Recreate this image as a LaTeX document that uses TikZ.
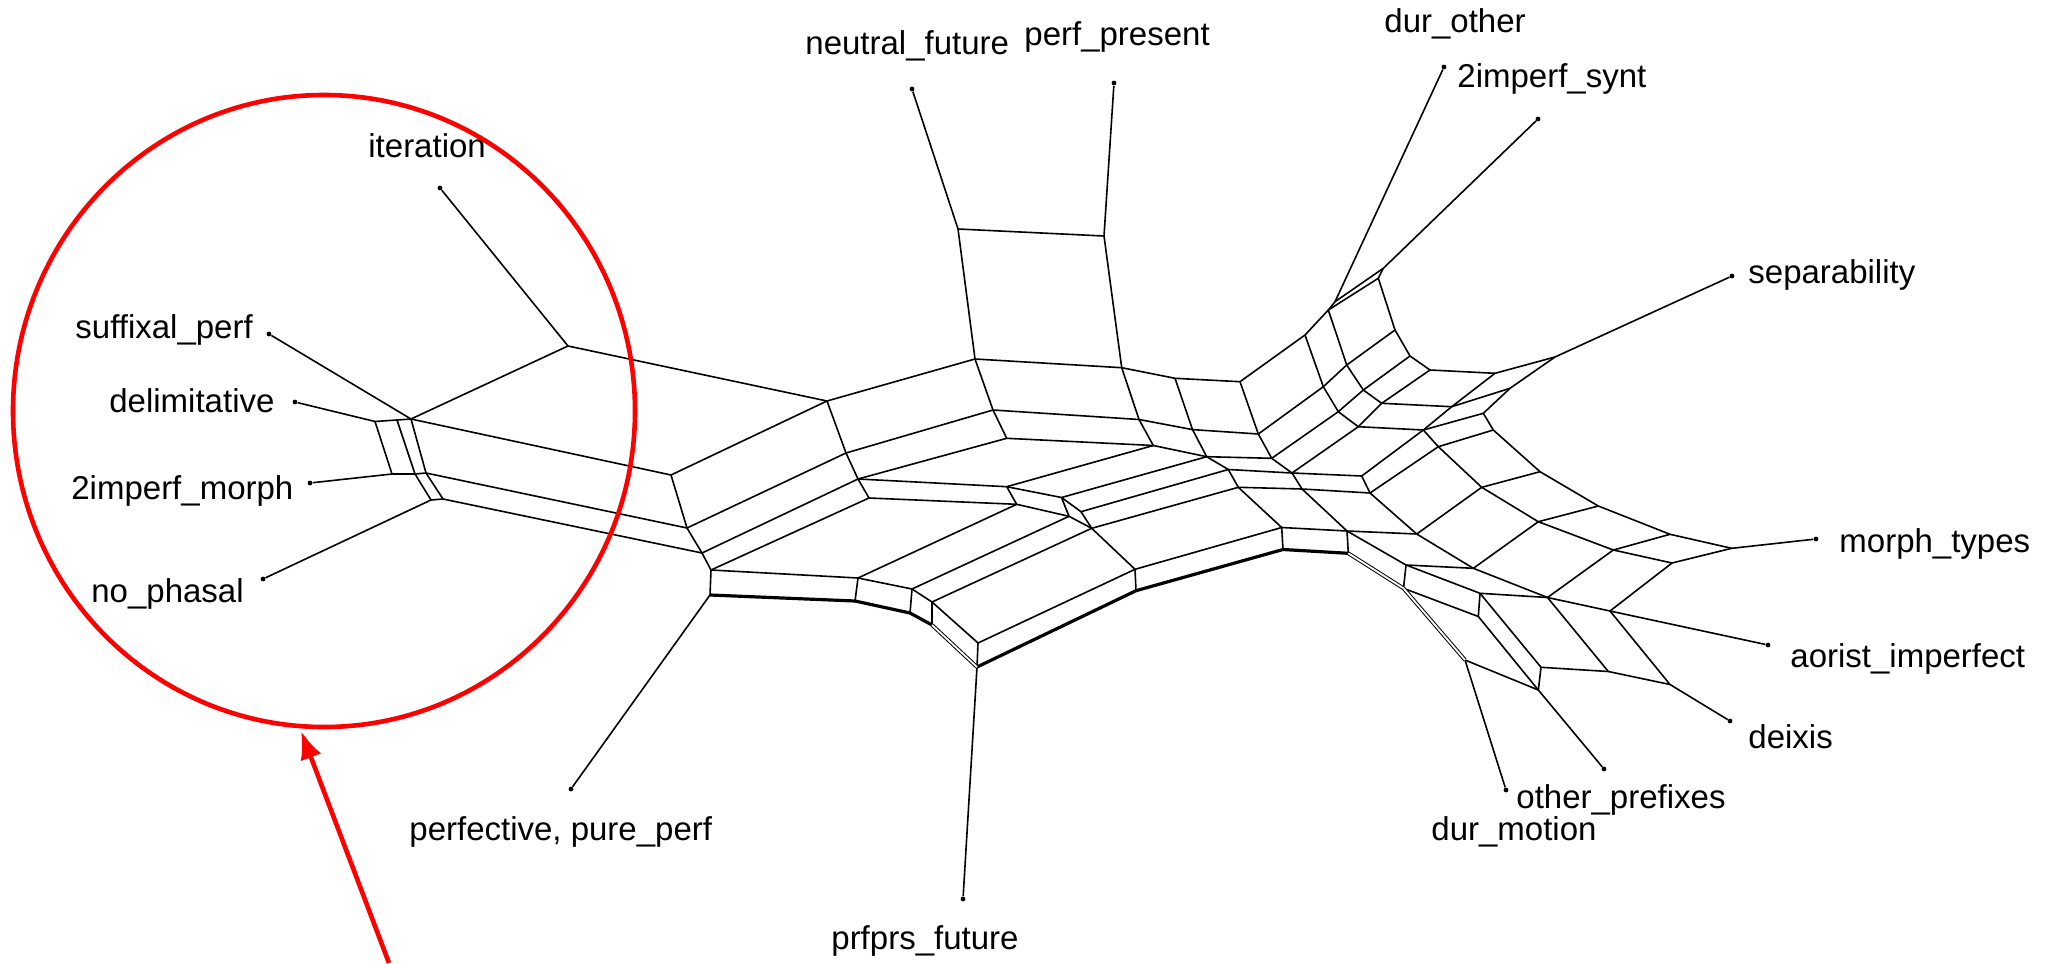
\documentclass[tikz,border=0pt]{standalone}
\usepackage{fontspec}
\setmainfont{Liberation Sans}
\usetikzlibrary{arrows.meta}
\begin{document}
\begin{tikzpicture}[x=0.5pt,y=-0.5pt,
  edge/.style={line width=0.8pt},
  bold/.style={line width=1.6pt},
  dbl/.style={double, double distance=0.9pt, line width=0.5pt},
  lbl/.style={anchor=base west, inner sep=0pt, font=\fontsize{16.5}{20}\selectfont},
  leaf/.style={circle, fill, inner sep=0pt, minimum size=2.4pt},
  mark red/.style={draw=red, line width=2.3pt}]
\useasboundingbox (0,0) rectangle (2049,963);

% ---------- leaves ----------
\node[leaf] (Liter) at (440,188) {};
\node[leaf] (Lsuff) at (269,334) {};
\node[leaf] (Ldelim) at (295,402) {};
\node[leaf] (Lmorph) at (310,483) {};
\node[leaf] (Lnoph) at (263,579) {};
\node[leaf] (Lnf) at (912,89) {};
\node[leaf] (Lpp) at (1114,83) {};
\node[leaf] (Ldur) at (1444,67) {};
\node[leaf] (Lsynt) at (1538,119) {};
\node[leaf] (Lsep) at (1732,276) {};
\node[leaf] (Lmt) at (1816,539) {};
\node[leaf] (Laor) at (1768,645) {};
\node[leaf] (Ldeix) at (1730,721) {};
\node[leaf] (Loth) at (1604,769) {};
\node[leaf] (Ldurm) at (1506,790) {};
\node[leaf] (Lperf) at (571,789) {};
\node[leaf] (Lprf) at (963,899) {};

% ---------- internal vertices ----------
\coordinate (I) at (568,346);
\coordinate (A1) at (375,421.5);
\coordinate (A2) at (397,420);
\coordinate (A3) at (411,419);
\coordinate (B1) at (392,474);
\coordinate (B2) at (415,474);
\coordinate (B3) at (426,473);
\coordinate (C1) at (431,500);
\coordinate (C2) at (443,499);

\coordinate (L1) at (671,475);
\coordinate (L2) at (687,528);
\coordinate (L3) at (702,553);
\coordinate (L4) at (711,570);
\coordinate (L5) at (710,595);
\coordinate (N1) at (827,401);
\coordinate (N3) at (846,453);
\coordinate (N4) at (858,479);
\coordinate (N5) at (869,498);
\coordinate (N2) at (975,359);
\coordinate (N6) at (993,410);
\coordinate (N7) at (1006.7,438.3);
\coordinate (T1) at (958,229);
\coordinate (T2) at (1104,236);

\coordinate (P1) at (1121.7,367.7);
\coordinate (P2) at (1175,378.3);
\coordinate (P3) at (1240,381.7);
\coordinate (P4) at (1305,335);
\coordinate (P5) at (1139,419.5);
\coordinate (P6) at (1153.3,445.5);
\coordinate (P7) at (1192.5,429.6);
\coordinate (P8) at (1206.7,456.7);
\coordinate (P9) at (1258.3,434);
\coordinate (P10) at (1271.7,458.3);
\coordinate (P11) at (1292,473);
\coordinate (P12) at (1302,489);
\coordinate (P13) at (1370,493);
\coordinate (P14) at (1361.7,476);
\coordinate (AG) at (1228.3,469.5);
\coordinate (AH) at (1238.3,487.3);

\coordinate (Qc) at (1006.7,486.7);
\coordinate (Qd) at (1016.7,504.3);
\coordinate (Qe) at (1061.5,497.5);
\coordinate (Qf) at (1069,516.3);
\coordinate (Qg) at (1081,511.7);
\coordinate (Qh) at (1091.7,528.3);
\coordinate (Qi) at (1135,569.3);
\coordinate (Qj) at (1136,590.7);
\coordinate (Qk) at (1281.7,527.5);
\coordinate (Ql) at (1283,549.5);
\coordinate (Qm) at (1347,531);
\coordinate (Qn) at (1348.3,553.3);

\coordinate (M1) at (858,578);
\coordinate (M2) at (855,601);
\coordinate (M3) at (912,589);
\coordinate (M4) at (910,613);
\coordinate (M5) at (932,602);
\coordinate (M6) at (932,625);
\coordinate (M7) at (978,643);
\coordinate (M8) at (977,667);

\coordinate (Ra) at (1383.3,268.3);
\coordinate (Rb) at (1378.3,278.3);
\coordinate (Rc) at (1335,301.7);
\coordinate (Rd) at (1328.3,310);
\coordinate (Rh) at (1346.7,365);
\coordinate (Ri) at (1323.3,386.7);
\coordinate (Rj) at (1395,330);
\coordinate (Rk) at (1410,356);
\coordinate (Rl) at (1430,370);
\coordinate (Rm) at (1495,373.3);
\coordinate (Rn) at (1363.3,390);
\coordinate (Ro) at (1338.3,411.7);
\coordinate (Rw) at (1381.7,403.3);
\coordinate (Rx) at (1451.7,406.7);
\coordinate (Ry) at (1358.3,426.7);
\coordinate (Rz) at (1423.3,430);
\coordinate (Raa) at (1483.3,413.3);
\coordinate (Rab) at (1493.3,430);
\coordinate (Rac) at (1438.3,446.7);
\coordinate (Raf) at (1481.7,487.3);

\coordinate (S0) at (1510,388.3);
\coordinate (SepI) at (1555,357);
\coordinate (S1) at (1540,471.7);
\coordinate (S2) at (1598.3,506);
\coordinate (S3) at (1416.7,534);
\coordinate (S4) at (1538.3,521.7);
\coordinate (S5) at (1670,534.3);
\coordinate (S6) at (1731.7,548.3);
\coordinate (S7) at (1613.3,550);
\coordinate (S8) at (1672,563);
\coordinate (S9) at (1473.3,568.3);
\coordinate (S10) at (1406,565);
\coordinate (S11) at (1403.5,588.3);
\coordinate (S12) at (1480,593.3);
\coordinate (S13) at (1547.5,597.5);
\coordinate (S14) at (1478.3,616.5);
\coordinate (S15) at (1610,611);
\coordinate (S16) at (1465,660);
\coordinate (S17) at (1541,667.3);
\coordinate (S18) at (1538.3,690);
\coordinate (S19) at (1608.3,671.5);
\coordinate (S20) at (1670,684.5);

% ---------- thin edges ----------
\foreach \u/\v in {Liter/I, Lsuff/A3, Ldelim/A1, Lmorph/B1, Lnoph/C1,
  I/A3, A1/A2, A2/A3, A1/B1, A2/B2, A3/B3, B1/B2, B2/B3, B2/C1, B3/C2, C1/C2,
  I/N1, A3/L1, B3/L2, C2/L3,
  L1/L2, L2/L3, L3/L4, L4/L5, L1/N1, L2/N3, L3/N4, L4/N5, N1/N3, N3/N4, N4/N5,
  N1/N2, N3/N6, N4/N7, N2/N6, N6/N7,
  Lnf/T1, Lpp/T2, T1/T2, T1/N2, T2/P1,
  N2/P1, N6/P5, N7/P6, N4/Qc, N5/Qd,
  P1/P2, P2/P3, P3/P4, P1/P5, P5/P6, P2/P7, P5/P7, P6/P8, P7/P8, P3/P9, P7/P9,
  P8/P10, P9/P10, P10/P11, P11/P12, P8/AG, AG/P11, AG/AH, AH/P12, P11/P14, P12/P13, P14/P13,
  Qc/P6, Qc/Qe, Qc/Qd, Qd/Qf, Qe/Qf, Qe/P8, Qe/Qg, Qf/Qh, Qg/Qh, Qg/AG, Qh/AH, Qh/Qi,
  AH/Qk, Qi/Qk, Qi/Qj, Qk/Ql, P12/Qm, Qk/Qm, Qm/Qn,
  L4/M1, M1/M2, M1/M3, M3/M4, M3/M5, M5/M6, M5/M7, M7/M8,
  M1/Qd, M3/Qf, M5/Qh, M7/Qi, L5/Lperf, M8/Lprf,
  Lsynt/Ra, Ldur/Rc, Ra/Rb, Rc/Rd, Ra/Rc, Rb/Rd, P4/Rd, Rd/Rh, Rb/Rj, P4/Ri, Ri/Rh, Rh/Rj,
  Rj/Rk, Rk/Rl, Rl/Rm, Rh/Rn, Rn/Rk, Rn/Rw, Rw/Rl, Rw/Rx, Rx/Rm, Ri/Ro, Ro/Rn, Ro/Ry, Ry/Rw,
  Ry/Rz, Rz/Rx, P9/Ri, P10/Ro, P11/Ry, P14/Rz, P13/Rac, Rz/Rac, Rac/Rab, Rz/Raa, Raa/Rab,
  Raa/S0, Rx/S0, S0/SepI, Rm/SepI, SepI/Lsep,
  Rab/S1, Rac/Raf, Raf/S1, S1/S2, Raf/S4, S4/S2, S2/S5, S4/S7, S7/S5, S5/S6, S7/S8, S8/S6, S6/Lmt,
  P13/S3, S3/Raf, Qm/S3, S3/S9, S9/S4, S9/S13, S13/S7, S13/S15, S15/S8, S15/Laor,
  Qm/S10, S10/S9, S10/S11, S10/S12, S12/S13, S11/S14, S12/S14, S12/S17, S14/S18, S17/S18,
  S13/S19, S15/S20, S17/S19, S19/S20, S16/S18, S16/Ldurm, S18/Loth, S20/Ldeix}
  \draw[edge] (\u) -- (\v);

% ---------- heavy boundary edges ----------
\foreach \u/\v in {L5/M2, M2/M4, M4/M6, M8/Qj, Qj/Ql, Ql/Qn}
  \draw[bold] (\u) -- (\v);
\foreach \u/\v in {M6/M8, Qn/S11, S11/S16}
  \draw[dbl] (\u) -- (\v);

% ---------- labels ----------
\node[lbl] (tIter) at (368,157) {iteration};
\node[lbl] (tSuff) at (75,338) {suffixal\_perf};
\node[lbl] (tDelim) at (109,412) {delimitative};
\node[lbl] (tMorph) at (71,499) {2imperf\_morph};
\node[lbl] (tNoph) at (91,602) {no\_phasal};
\node[lbl] (tNf) at (805,55) {neutral\_future};
\node[lbl] (tPp) at (1024,46) {perf\_present};
\node[lbl] (tDur) at (1384,33) {dur\_other};
\node[lbl] (tSynt) at (1457,88) {2imperf\_synt};
\node[lbl] (tSep) at (1748,283) {separability};
\node[lbl] (tMt) at (1839,552) {morph\_types};
\node[lbl] (tAor) at (1790,667) {aorist\_imperfect};
\node[lbl] (tDeix) at (1748,748) {deixis};
\node[lbl] (tOth) at (1516,808) {other\_prefixes};
\node[lbl] (tDurm) at (1431,840) {dur\_motion};
\node[lbl] (tPerf) at (409,840) {perfective, pure\_perf};
\node[lbl] (tPrf) at (831,949) {prfprs\_future};

% ---------- red highlight ----------
\coordinate (ringC) at (324,411);
\draw[mark red] (ringC) ellipse [x radius=311, y radius=316];
\coordinate (tail) at (389,963);
\coordinate (tip) at (301,731);
\draw[draw=red, line width=2.3pt, -{Latex[length=14pt, width=11pt]}] (tail) -- (tip);
\end{tikzpicture}
\end{document}
